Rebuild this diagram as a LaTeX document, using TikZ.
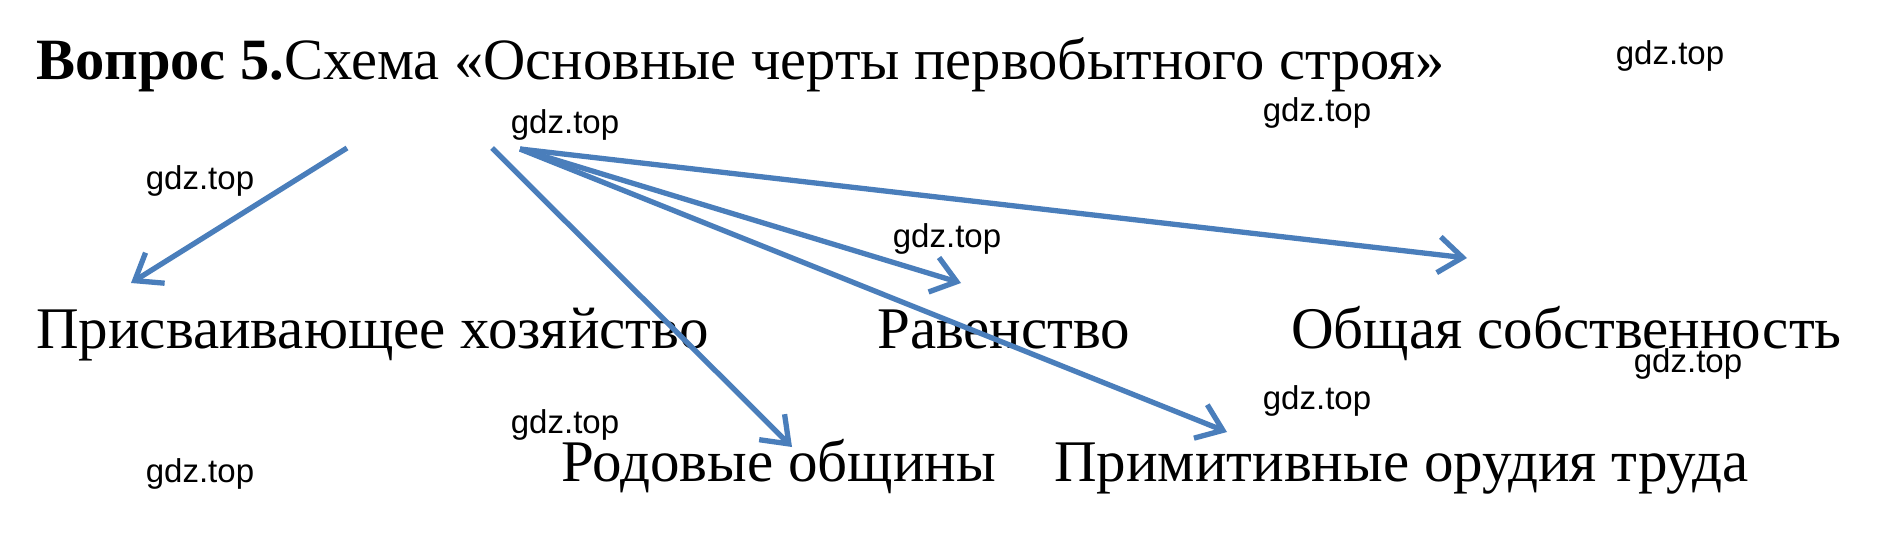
\documentclass[tikz,border=0pt]{standalone}
\usepackage{fontspec}
\setmainfont{Liberation Serif}
\newfontfamily\wmfont{Liberation Sans}
\usetikzlibrary{arrows.meta}
\definecolor{arrowblue}{HTML}{4A7EBB}
\begin{document}
\begin{tikzpicture}[x=1pt,y=-1pt,
  lbl/.style={anchor=base west,inner sep=0pt,font=\fontsize{59}{66}\selectfont},
  ttl/.style={anchor=base west,inner sep=0pt,font=\fontsize{58.5}{66}\selectfont},
  wm/.style={anchor=center,inner sep=0pt,font=\wmfont\fontsize{33}{38}\selectfont},
  arr/.style={draw=arrowblue,line width=5.3pt,-{Straight Barb[length=24pt,width=36pt]}}]
\fill[white] (0,0) rectangle (1904,544);
\useasboundingbox (0,0) rectangle (1904,544);
% title
\node[ttl] (title) at (36,79) {\textbf{Вопрос 5.}Схема «Основные черты первобытного строя»};
% labels
\node[lbl] (n1) at (36,348) {Присваивающее хозяйство};
\node[lbl] (n2) at (877,348) {Равенство};
\node[lbl] (n3) at (1291,348) {Общая собственность};
\node[lbl] (n4) at (561,481) {Родовые общины};
\node[lbl] (n5) at (1054,481) {Примитивные орудия труда};
% watermarks
\node[wm] (w1) at (1670,56) {gdz.top};
\node[wm] (w2) at (565,125) {gdz.top};
\node[wm] (w3) at (1317,113) {gdz.top};
\node[wm] (w4) at (200,181) {gdz.top};
\node[wm] (w5) at (947,239) {gdz.top};
\node[wm] (w6) at (1688,364) {gdz.top};
\node[wm] (w7) at (1317,401) {gdz.top};
\node[wm] (w8) at (565,425) {gdz.top};
\node[wm] (w9) at (200,474) {gdz.top};
% arrow endpoints
\coordinate (s1) at (347,148);
\coordinate (t1) at (131,283);
\coordinate (s2) at (492,148);
\coordinate (t2) at (792,447);
\coordinate (s3) at (520,149);
\coordinate (t3) at (961,283);
\coordinate (t4) at (1227,432);
\coordinate (t5) at (1467,258);
\draw[arr] (s1) -- (t1);
\draw[arr] (s2) -- (t2);
\draw[arr] (s3) -- (t3);
\draw[arr] (s3) -- (t4);
\draw[arr] (s3) -- (t5);
\end{tikzpicture}
\end{document}
